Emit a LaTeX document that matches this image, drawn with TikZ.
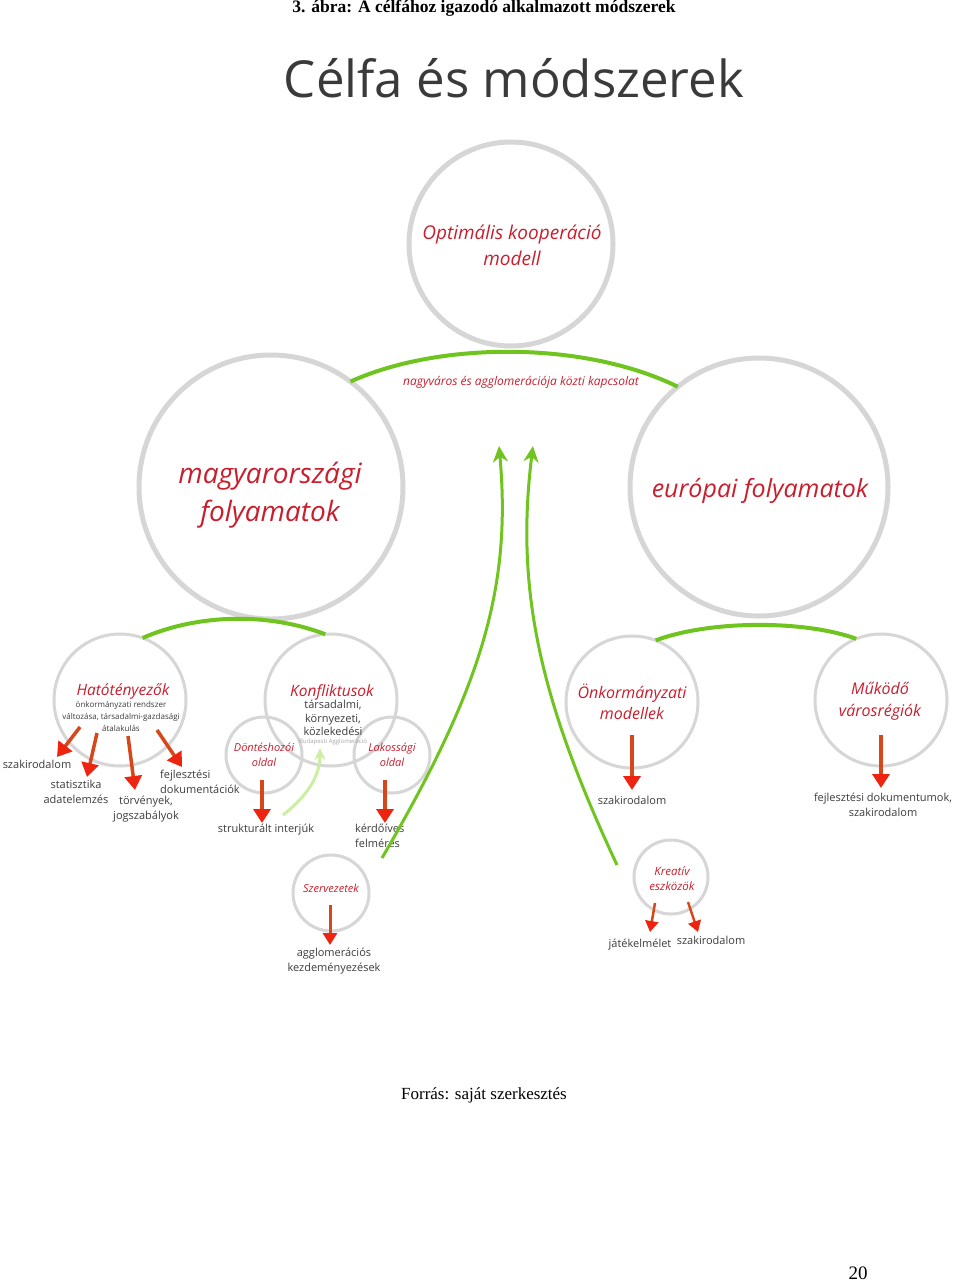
\documentclass[tikz,border=0pt]{standalone}
\usepackage{fontspec}
\setmainfont{Open Sans}
\newfontfamily\tnr{Liberation Serif}
\usetikzlibrary{arrows.meta}
\definecolor{cred}{RGB}{200,30,45}
\definecolor{cgray}{RGB}{214,214,214}
\definecolor{cgreen}{RGB}{112,196,32}
\definecolor{lgreen}{RGB}{204,238,160}
\definecolor{ctext}{RGB}{60,60,60}
\definecolor{ctitle}{RGB}{58,58,58}
\definecolor{ashaft}{RGB}{214,72,28}
\definecolor{ahead}{RGB}{236,36,16}
\newcommand{\fs}[2]{\fontsize{#1}{#2}\selectfont}
\begin{document}
\begin{tikzpicture}[x=1pt,y=-1pt,
 circ/.style={circle,draw=cgray,line width=3pt,inner sep=0pt,outer sep=0pt},
 bigcirc/.style={circ,line width=5pt},
 rtitle/.style={text=cred,align=center,inner sep=0pt},
 lab/.style={text=ctext,align=center,inner sep=1pt},
 redarr/.style={draw=ashaft,line width=3.5pt,-{Triangle[length=14pt,width=17pt,fill=ahead,color=ahead]}},
 midarr/.style={draw=ashaft,line width=3pt,-{Triangle[length=12pt,width=14pt,fill=ahead,color=ahead]}},
 smallarr/.style={draw=ashaft,line width=2.5pt,-{Triangle[length=11pt,width=13pt,fill=ahead,color=ahead]}},
 garr/.style={draw=cgreen,line width=3pt,-{Stealth[length=16pt,width=15pt]}},
 larr/.style={draw=lgreen,line width=3pt,-{Stealth[length=12pt,width=11pt]}},
 garc/.style={draw=cgreen,line width=4pt},
]
\fill[white] (0,0) rectangle (960,1283);
\useasboundingbox (0,0) rectangle (960,1283);

% captions
\node[font=\tnr\bfseries\fs{17.5}{19}] (cap) at (484,8) {3. ábra: A célfához igazodó alkalmazott módszerek};
\node[text=ctitle,font=\fs{51}{60}] (title) at (514,78) {Célfa és módszerek};
\node[font=\tnr\fs{17}{19}] (src) at (484,1095) {Forrás: saját szerkesztés};
\node[font=\tnr\fs{19}{22}] (page) at (858,1273) {20};

% circles
\node[bigcirc,minimum size=204pt] (top) at (511,244) {};
\node[bigcirc,minimum size=264pt] (mf) at (271,487) {};
\node[bigcirc,minimum size=258pt] (ef) at (759,487) {};
\node[circ,minimum size=132pt] (hat) at (120,700) {};
\node[circ,minimum size=132pt] (kon) at (331,700) {};
\node[circ,minimum size=76pt] (don) at (264,755) {};
\node[circ,minimum size=76pt] (lak) at (392,755) {};
\node[circ,minimum size=76pt] (szer) at (331,893) {};
\node[circ,minimum size=132pt] (onk) at (632,702) {};
\node[circ,minimum size=132pt] (muk) at (881,700) {};
\node[circ,minimum size=74pt] (kre) at (671,877) {};

% green arcs
\draw[garc] (mf.53) .. controls (440,341) and (585,341) .. (ef.129);
\draw[garc] (hat.70) .. controls (200,613) and (270,613) .. (kon.95);
\draw[garc] (onk.69) .. controls (710,620) and (805,620) .. (muk.112);

% circle texts
\node[rtitle,font=\itshape\fs{19}{26}] (ttop) at (512,245) {Optimális kooperáció\\modell};
\node[rtitle,font=\itshape\fs{28}{38}] (tmf) at (270,495) {magyarországi\\folyamatok};
\node[rtitle,font=\itshape\fs{25}{30}] (tef) at (760,491) {európai folyamatok};
\node[rtitle,font=\itshape\fs{12}{14}] (tarc) at (521,382) {nagyváros és agglomerációja közti kapcsolat};
\node[rtitle,font=\itshape\fs{15.5}{18}] (thal) at (123,691) {Hatótényezők};
\node[lab,font=\fs{8}{12}] (thals) at (121,716) {önkormányzati rendszer\\változása, társadalmi-gazdasági\\átalakulás};
\node[rtitle,font=\itshape\fs{15.5}{18}] (tkon) at (332,692) {Konfliktusok};
\node[lab,font=\fs{11}{13.5}] (tkons) at (333,718) {társadalmi,\\környezeti,\\közlekedési};
\node[text=ctext!45,font=\fs{6}{7},inner sep=0pt] (tbud) at (333,742) {Budapesti Agglomeráció};
\node[rtitle,font=\itshape\fs{11}{15}] (tdon) at (264,755) {Döntéshozói\\oldal};
\node[rtitle,font=\itshape\fs{11}{15}] (tlak) at (392,755) {Lakossági\\oldal};
\node[rtitle,font=\itshape\fs{11}{15}] (tszer) at (331,888) {Szervezetek};
\node[rtitle,font=\itshape\fs{16}{21}] (tonk) at (632,702) {Önkormányzati\\modellek};
\node[rtitle,font=\itshape\fs{16}{22}] (tmuk) at (880,701) {Működő\\városrégiók};
\node[rtitle,font=\itshape\fs{11.5}{15}] (tkre) at (672,879) {Kreatív\\eszközök};

% labels
\node[lab,font=\fs{11}{15}] (lszak1) at (37,764) {szakirodalom};
\node[lab,font=\fs{11}{15}] (lstat) at (76,792) {statisztika\\adatelemzés};
\node[lab,font=\fs{11}{15}] (ltorv) at (146,809) {törvények,\\jogszabályok};
\node[lab,font=\fs{11}{15},align=left,anchor=west] (lfejl) at (159,782) {fejlesztési\\dokumentációk};
\node[lab,font=\fs{11}{15}] (lstr) at (266,830) {strukturált interjúk};
\node[lab,font=\fs{11}{15},align=left,anchor=west] (lker) at (354,836) {kérdőíves\\felmérés};
\node[lab,font=\fs{11}{15}] (lagg) at (334,961) {agglomerációs\\kezdeményezések};
\node[lab,font=\fs{11}{15}] (lszak2) at (632,800) {szakirodalom};
\node[lab,font=\fs{11}{15}] (lfejd) at (883,805) {fejlesztési dokumentumok,\\szakirodalom};
\node[lab,font=\fs{11}{15}] (ljat) at (640,945) {játékelmélet};
\node[lab,font=\fs{11}{15}] (lszak3) at (711,940) {szakirodalom};

% red arrows
\coordinate (h1a) at (80,727); \coordinate (h1b) at (57,757);
\coordinate (h2a) at (97,733); \coordinate (h2b) at (87,777);
\coordinate (h3a) at (128,736); \coordinate (h3b) at (135,790);
\coordinate (h4a) at (157,730); \coordinate (h4b) at (182,767);
\draw[redarr] (h1a) -- (h1b);
\draw[redarr] (h2a) -- (h2b);
\draw[redarr] (h3a) -- (h3b);
\draw[redarr] (h4a) -- (h4b);
\coordinate (da) at (262,780); \coordinate (db) at (262,823);
\coordinate (la) at (385,780); \coordinate (lb) at (385,823);
\coordinate (sa) at (330,905); \coordinate (sb) at (330,945);
\coordinate (oa) at (632,735); \coordinate (ob) at (632,790);
\coordinate (ma) at (881,735); \coordinate (mb) at (881,788);
\draw[redarr] (da) -- (db);
\draw[redarr] (la) -- (lb);
\draw[midarr] (sa) -- (sb);
\draw[redarr] (oa) -- (ob);
\draw[redarr] (ma) -- (mb);
\coordinate (k1a) at (655,903); \coordinate (k1b) at (650,932);
\coordinate (k2a) at (688,902); \coordinate (k2b) at (698,932);
\draw[smallarr] (k1a) -- (k1b);
\draw[smallarr] (k2a) -- (k2b);

% green arrows
\coordinate (g1a) at (382,858); \coordinate (g1b) at (499,446);
\coordinate (g2a) at (617,865); \coordinate (g2b) at (533,446);
\draw[garr] (g1a) .. controls (480,690) and (512,590) .. (g1b);
\draw[garr] (g2a) .. controls (540,700) and (515,590) .. (g2b);
\coordinate (lga) at (283,815); \coordinate (lgb) at (320,748);
\draw[larr] (lga) .. controls (302,800) and (320,780) .. (lgb);
\end{tikzpicture}
\end{document}
